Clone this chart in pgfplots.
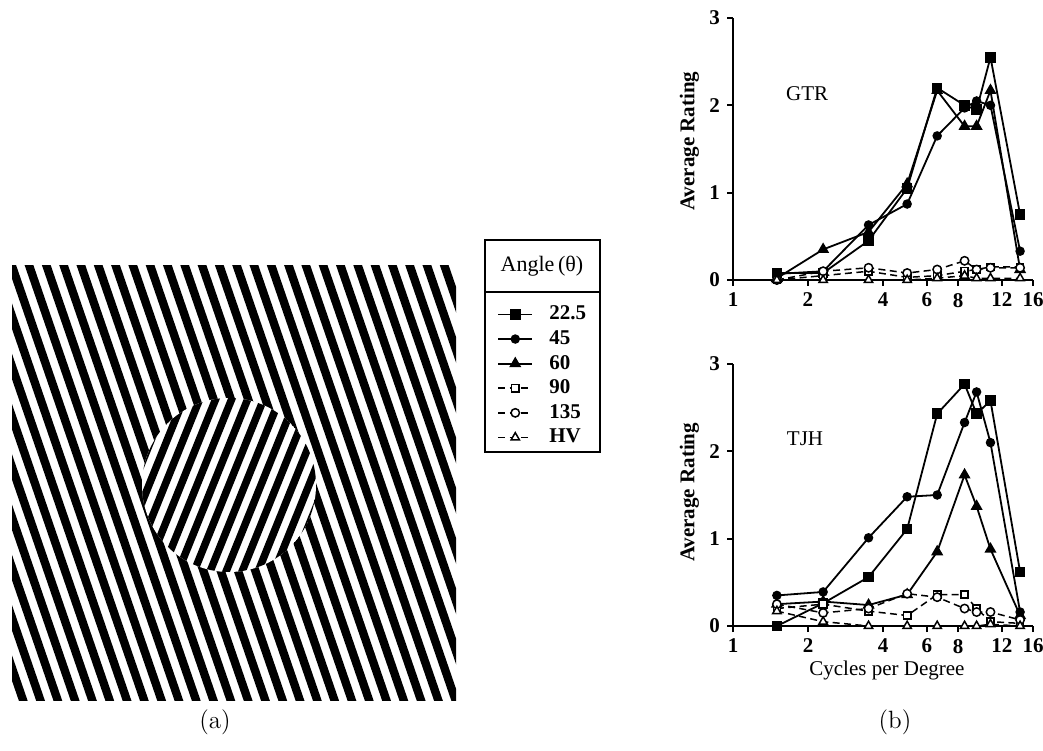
\documentclass[border=0pt]{standalone}
\usepackage{fontspec}
\usepackage{pgfplots}
\usepackage{pgfplotstable}
\pgfplotsset{compat=1.18}
\newfontfamily\tnr{Liberation Serif}

\pgfplotstableread{
x    a    b    c    d    e    f
1.5  0.08 0.07 0.02 0.00 0.00 0.00
2.3  0.08 0.10 0.35 0.05 0.10 0.00
3.5  0.45 0.63 0.55 0.10 0.14 0.00
5.0  1.05 0.87 1.10 0.03 0.08 0.00
6.6  2.20 1.65 2.17 0.05 0.12 0.02
8.5  2.00 1.97 1.76 0.10 0.22 0.05
9.5  1.95 2.05 1.76 0.12 0.12 0.02
10.8 2.55 2.00 2.17 0.15 0.14 0.02
14.2 0.75 0.33 0.12 0.15 0.14 0.02
}\gtr

\pgfplotstableread{
x    a    b    c    d    e    f
1.5  0.00 0.35 0.25 0.20 0.25 0.17
2.3  0.26 0.39 0.28 0.25 0.15 0.05
3.5  0.56 1.01 0.24 0.17 0.20 0.00
5.0  1.11 1.48 0.36 0.12 0.37 0.00
6.6  2.43 1.50 0.85 0.36 0.33 0.00
8.5  2.77 2.33 1.73 0.36 0.20 0.00
9.5  2.43 2.68 1.37 0.20 0.16 0.00
10.8 2.58 2.10 0.88 0.05 0.16 0.02
14.2 0.62 0.16 0.12 0.03 0.07 0.00
}\tjh

\pgfplotsset{
  s1/.style={black, solid, line width=0.9pt, mark=square*, mark size=2.2pt, mark options={solid}},
  s2/.style={black, solid, line width=0.9pt, mark=*, mark size=1.9pt, mark options={solid}},
  s3/.style={black, solid, line width=0.9pt, mark=triangle*, mark size=2.6pt, mark options={solid}},
  s4/.style={black, line width=0.75pt, dash pattern=on 3.5pt off 2.2pt, mark=square*, mark size=1.8pt, mark options={solid, fill=white, line width=0.75pt}},
  s5/.style={black, line width=0.75pt, dash pattern=on 3.5pt off 2.2pt, mark=*, mark size=2.1pt, mark options={solid, fill=white, line width=0.75pt}},
  s6/.style={black, line width=0.75pt, dash pattern=on 3.5pt off 2.2pt, mark=triangle*, mark size=2.4pt, mark options={solid, fill=white, line width=0.75pt}},
}

\begin{document}
\begin{tikzpicture}[x=1pt,y=1pt]
\useasboundingbox (0,0) rectangle (521.5,375);

% ---- (a) grating ----
\begin{scope}
  \clip (6,25) rectangle (228,242);
  \foreach \i in {-10,...,27} {
    \draw[line width=4.15pt] ({6+\i*8.65-3.44},252) -- ({6+\i*8.65+74.7+3.44},15);
  }
\end{scope}
\begin{scope}
  \clip (114.5,132.5) circle (43.5pt);
  \fill[white] (114.5,132.5) circle (43.5pt);
  \foreach \i in {-8,...,8} {
    \draw[line width=3.75pt] ({114.5-21.2+\i*8},80) -- ({114.5-21.2+\i*8+42.4},185);
  }
\end{scope}
\node at (107.5,14) {\fontsize{12.5}{15}\selectfont (a)};
\node at (447.5,14) {\fontsize{12.5}{15}\selectfont (b)};

% ---- top plot ----
\begin{axis}[at={(366.5pt,235pt)}, anchor=origin,
    scale only axis, width=150pt, height=131pt,
    xmode=log, log basis x=2, xmin=1, xmax=16, ymin=0, ymax=3,
    xtick={1,2,4,6,8,12,16}, xticklabels={1,2,4,6,8,12,16},
    ytick={0,1,2,3},
    axis x line*=bottom, axis y line*=left,
    axis line style={line width=1.1pt},
    tick style={line width=0.9pt, black},
    tick align=outside, major tick length=3pt,
    clip=false,
    font=\tnr\fontsize{10.5}{12}\selectfont,
    ticklabel style={font=\tnr\bfseries\fontsize{10.5}{12}\selectfont},
    /pgf/number format/assume math mode=true,
    ylabel={Average Rating},
    ylabel style={font=\tnr\bfseries\fontsize{10.5}{12}\selectfont, at={(axis description cs:-0.145,0.53)}, anchor=center},
  legend style={at={(axis description cs:-0.787,-0.083)}, anchor=north west,
    draw=none, fill=none, inner sep=0pt, row sep=0pt, column sep=6.5pt,
    font=\tnr\bfseries\fontsize{10.5}{12}\selectfont,
    nodes={inner sep=1.5pt, text height=7.4pt, text depth=1.9pt}},
  legend cell align=left]
  \addplot[s1] table[x=x,y=a] {\gtr}; \addlegendentry{22.5}
  \addplot[s2] table[x=x,y=b] {\gtr}; \addlegendentry{45}
  \addplot[s3] table[x=x,y=c] {\gtr}; \addlegendentry{60}
  \addplot[s4] table[x=x,y=d] {\gtr}; \addlegendentry{90}
  \addplot[s5] table[x=x,y=e] {\gtr}; \addlegendentry{135}
  \addplot[s6] table[x=x,y=f] {\gtr}; \addlegendentry{HV}
  \node[font=\tnr\fontsize{10.5}{12}\selectfont] at (rel axis cs:0.247,0.711) {GTR};
\end{axis}

% ---- bottom plot ----
\begin{axis}[at={(366.5pt,62pt)}, anchor=origin,
    scale only axis, width=150pt, height=131pt,
    xmode=log, log basis x=2, xmin=1, xmax=16, ymin=0, ymax=3,
    xtick={1,2,4,6,8,12,16}, xticklabels={1,2,4,6,8,12,16},
    ytick={0,1,2,3},
    axis x line*=bottom, axis y line*=left,
    axis line style={line width=1.1pt},
    tick style={line width=0.9pt, black},
    tick align=outside, major tick length=3pt,
    clip=false,
    font=\tnr\fontsize{10.5}{12}\selectfont,
    ticklabel style={font=\tnr\bfseries\fontsize{10.5}{12}\selectfont},
    /pgf/number format/assume math mode=true,
    ylabel={Average Rating},
    ylabel style={font=\tnr\bfseries\fontsize{10.5}{12}\selectfont, at={(axis description cs:-0.145,0.51)}, anchor=center},
  xlabel={Cycles per Degree},
  xlabel style={at={(axis description cs:0.513,-0.169)}, anchor=center}]
  \addplot[s1] table[x=x,y=a] {\tjh};
  \addplot[s2] table[x=x,y=b] {\tjh};
  \addplot[s3] table[x=x,y=c] {\tjh};
  \addplot[s4] table[x=x,y=d] {\tjh};
  \addplot[s5] table[x=x,y=e] {\tjh};
  \addplot[s6] table[x=x,y=f] {\tjh};
  \node[font=\tnr\fontsize{10.5}{12}\selectfont] at (rel axis cs:0.24,0.713) {TJH};
\end{axis}

% ---- legend frame ----
\draw[line width=0.9pt] (242.5,149) rectangle (300,255);
\draw[line width=0.9pt] (242.5,229) -- (300,229);
\node at (271,242) {\tnr\fontsize{11}{13}\selectfont Angle\,(θ)};
\end{tikzpicture}
\end{document}
